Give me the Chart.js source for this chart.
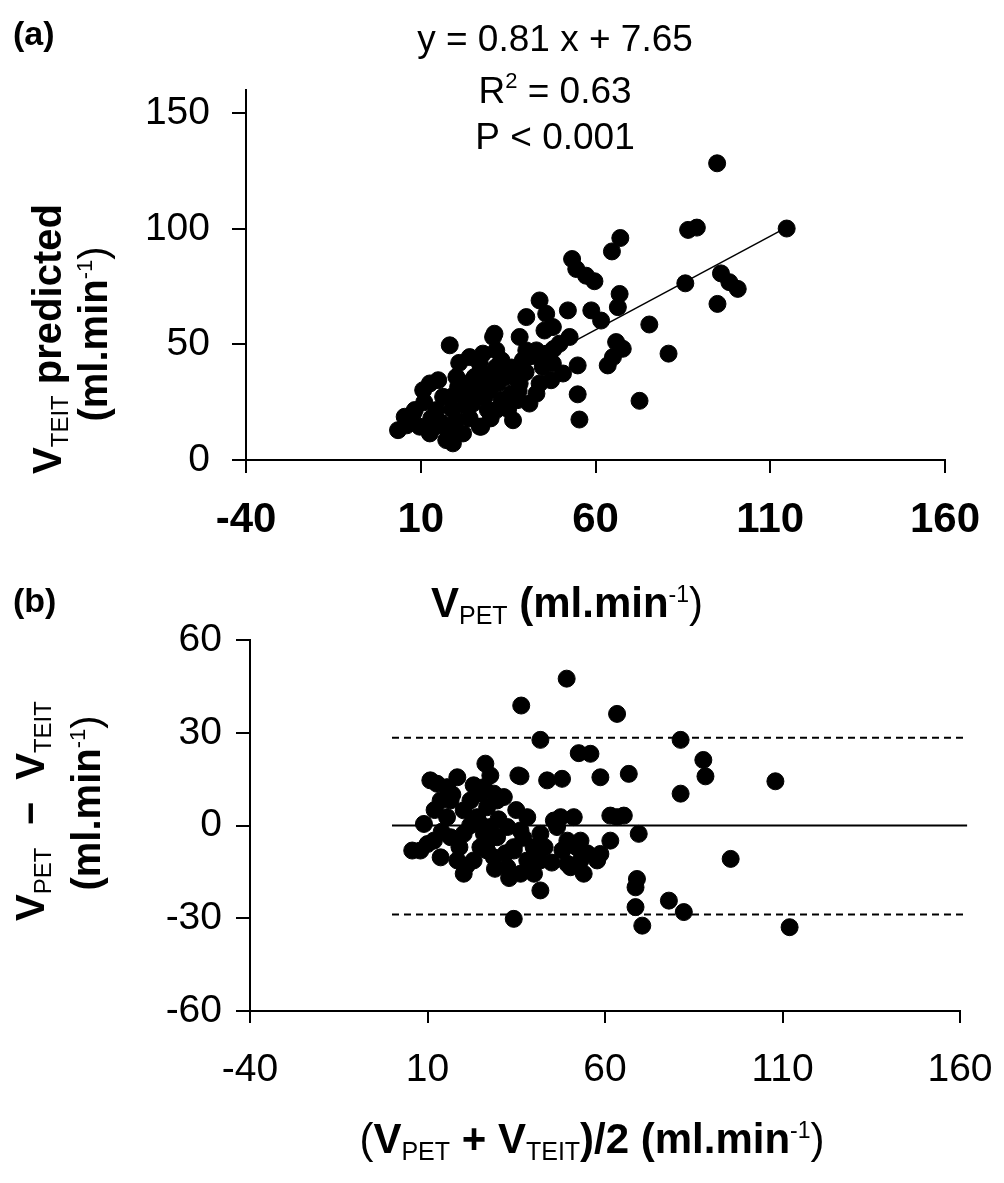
<!DOCTYPE html>
<html>
<head>
<meta charset="utf-8">
<script src="https://cdn.jsdelivr.net/npm/chart.js@4.4.1/dist/chart.umd.min.js"></script>
<style>
  body { margin: 0; background: #fff; }
  canvas { position: absolute; left: 0; }
</style>
</head>
<body>
<canvas id="chartA" width="1004" height="640" style="top:0"></canvas>
<canvas id="chartB" width="1004" height="603" style="top:580px"></canvas>
<script>
// panel (a): V_PET vs V_TEIT predicted
const vPet = [94.8, 86.5, 89, 114.7, 67.1, 64.7, 53.3, 54.5, 57.3, 59.7,
  85.7, 95.9, 98.3, 100.7, 94.9, 66.9, 66.4, 75.4, 80.9, 72.6,
  54.9, 55.4, 65.9, 67.8, 63.5, 65, 54.9, 50.7, 58.8, 61.6,
  52.1, 44, 45.9, 40.2, 52.6, 49.7, 47.8, 40.2, 39.2, 43.1,
  44.9, 30.7, 31.6, 27.8, 18.3, 43.1, 36.4, 3.5, 7.8, 10.7,
  12.6, 16.4, 19.2, 20.2, 23.1, 26.9, 24.9, 29.7, 31.6, 26.9,
  34.5, 38.3, 35.4, 9.7, 14.5, 22.1, 17.3, 12.6, 20.2, 24,
  44, 47.8, 38.3, 31.6, 23.1, 41.1, 45.4, 37.8, 32.1, 25.4,
  20.7, 8.3, 14, 27.3, 29.2, 18.8, 15, 33.1, 28.3, 33.1,
  5.4, 47.3, 37.8, 35.9, 31.1, 13, 16, 19, 22, 25,
  28, 30, 33, 36, 40, 42, 46, 48, 35, 30,
  11, 6, 18, 24, 38, 27, 21];
const vTeitPred = [128.3, 99.5, 100.5, 100.1, 96, 90.2, 86.9, 82.6, 79.7, 77.3,
  76.4, 80.7, 76.9, 74, 67.5, 71.8, 66.1, 58.6, 46, 25.6,
  28.4, 17.5, 51, 48.1, 40.9, 44.5, 40.9, 37.4, 64.7, 60.3,
  64.7, 69, 63.2, 61.8, 53.2, 50.3, 57.5, 47.4, 43.1, 47.4,
  40.2, 53.2, 47.4, 46, 49.6, 28.7, 17.2, 12.9, 20.1, 30.2,
  11.5, 27.3, 7.2, 17.2, 33.1, 41.7, 24.4, 30.2, 21.6, 14.4,
  35.9, 33.1, 27.3, 14.4, 21.6, 11.5, 8.6, 33.1, 35.9, 44.5,
  33.1, 41.7, 53.2, 40.2, 23, 24.4, 56, 25.9, 33.1, 35.9,
  31.6, 21.6, 14.4, 14.4, 21.6, 27.3, 34.5, 43.1, 27.3, 25.9,
  18.7, 34.5, 34.5, 28.7, 54.6, 18, 16, 22, 28, 30,
  33, 37, 38, 40, 38, 45, 46, 48, 22, 18,
  25, 15, 12, 18, 30, 38, 42];
// regression line end points
const fitX = [5, 114.7];
const fitY = [11.7, 100.6];

// panel (b): Bland-Altman
const meanVals = [49.2, 36.4, 63.4, 41.8, 81.3, 52.6, 55.9, 87.7, 88.3, 108,
  81.3, 66.7, 58.7, 43.7, 47.9, 36.2, 26.3, 61.5, 65.3, 69.5,
  61.5, 95.4, 69, 68.6, 41.8, 78, 82.2, 68.6, 70.5, 34.3,
  112, 10.8, 18.4, 13.7, 20.2, 15.5, 9, 8, 13.7, 20.2,
  24.9, 27.7, 31.5, 28.7, 32.5, 34.3, 38.1, 38.1, 41.8, 45.6,
  47.5, 49.4, 49.4, 53.1, 51.2, 57.8, 54, 41.8, 36.2, 32.5,
  24, 26.8, 16.5, 27.7, 15.5, 22.1, 24.9, 29.6, 36.2, 39.9,
  28.7, 23, 18.4, 11.8, 25.9, 20.2, 5.7, 35.6, 12.7, 16.5,
  46.5, 50.3, 40, 24.9, 29.6, 34.3, 26.8, 25.9, 63.4, 53.1,
  58.7, 12, 14, 17, 19, 22, 23, 27, 30, 32,
  35, 37, 40, 43, 45, 48, 52, 55, 33, 29,
  21, 10];
const diffVals = [47.5, 38.8, 36.1, 27.7, 27.7, 23.4, 23.2, 21.2, 15.9, 14.3,
  10.3, 16.7, 15.6, 14.6, 15.1, 15.9, 20, 3.2, 3.2, -2.7,
  -4.9, -10.8, -17.3, -20, -21, -24.3, -28, -26.4, -32.4, -30.2,
  -32.9, 14.6, 15.6, 8.1, 4.9, 2.7, 0.5, -8.1, -10.3, -15.6,
  -7, -0.5, 9.2, 10.3, -0.5, -7, -11.3, 2.7, -2.7, 1.6,
  2.7, -4.9, -12.4, -11.3, 2.7, -11.3, -15.6, -11.3, -15.6, -13.5,
  2.7, 5.9, -3.8, 16.2, 12.4, 8.1, 10.3, 8.1, -1.6, -7,
  -10.3, -11.3, -11.3, -4.9, -2.7, -2.7, -8.1, 16.2, 13.5, 8.1,
  -0.5, -13.5, -15.6, 0.5, -3.8, -8.1, -8.1, 12.4, 2.7, -4.9,
  -9.2, 5, -2, 10, -7, 0, 13, -5, 2, -9,
  5, -4, -10, -7, -12, -8, -7, -9, -17, -14,
  -13, -6];
const limitX = [0, 162];
const bias = 0;
const upperLoA = 28.4;
const lowerLoA = -28.8;

// tick labels
const xTicks = [-40, 10, 60, 110, 160];
const yTicksA = [0, 50, 100, 150];
const yTicksB = [-60, -30, 0, 30, 60];

const FONT = '"Liberation Sans", Arial, sans-serif';

function toPoints(xs, ys) {
  return xs.map((x, i) => ({ x: x, y: ys[i] }));
}

function seg(t, size, bold, dy) {
  return { t: t, size: size, bold: !!bold, dy: dy || 0 };
}

// draws a line of mixed text (bold / sub / sup), centred on x,y unless align is 'left'
function rich(ctx, parts, x, y, rotate, align) {
  ctx.save();
  ctx.textBaseline = 'alphabetic';
  ctx.textAlign = 'left';
  let total = 0;
  parts.forEach(p => {
    ctx.font = (p.bold ? 'bold ' : '') + p.size + 'px ' + FONT;
    p.w = ctx.measureText(p.t).width;
    total += p.w;
  });
  ctx.translate(x, y);
  if (rotate) ctx.rotate(-Math.PI / 2);
  let cx = align === 'left' ? 0 : -total / 2;
  parts.forEach(p => {
    ctx.font = (p.bold ? 'bold ' : '') + p.size + 'px ' + FONT;
    ctx.fillStyle = '#000';
    ctx.fillText(p.t, cx, p.dy);
    cx += p.w;
  });
  ctx.restore();
}

function axis(min, max, ticks, tickLen, pad, fontSize, bold, fit) {
  return {
    type: 'linear',
    min: min,
    max: max,
    afterBuildTicks: s => { s.ticks = ticks.map(v => ({ value: v })); },
    afterFit: fit,
    grid: { drawOnChartArea: false, drawTicks: true, tickLength: tickLen, color: '#000', lineWidth: 2 },
    border: { display: true, color: '#000', width: 2 },
    ticks: { color: '#000', padding: pad, maxRotation: 0, autoSkip: false,
      font: { family: FONT, size: fontSize, weight: bold ? 'bold' : 'normal' } }
  };
}

// fixed box sizes so the plot area lands where the picture has it
function fixHeight(h) {
  return s => { s.height = h; s.paddingLeft = 0; s.paddingRight = 0; };
}
function fixWidth(w) {
  return s => { s.width = w; s.paddingTop = 0; s.paddingBottom = 0; };
}

const dotStyle = { backgroundColor: '#000', borderColor: '#000', pointRadius: 8.5, pointHoverRadius: 8.5, borderWidth: 1 };

// panel (a)
new Chart(document.getElementById('chartA'), {
  type: 'scatter',
  data: {
    datasets: [
      Object.assign({ data: toPoints(vPet, vTeitPred) }, dotStyle),
      { data: toPoints(fitX, fitY), showLine: true, pointRadius: 0, borderColor: '#000', borderWidth: 1.5, clip: false }
    ]
  },
  options: {
    responsive: false,
    animation: false,
    events: [],
    plugins: { legend: { display: false }, tooltip: { enabled: false } },
    layout: { padding: { top: 90, right: 59, left: 0, bottom: 0 } },
    scales: {
      x: axis(-40, 160, xTicks, 13, 22, 42, true, fixHeight(180)),
      y: axis(0, 160, yTicksA, 14, 22, 39, false, fixWidth(246))
    }
  },
  plugins: [{
    id: 'textA',
    afterDraw(chart) {
      const ctx = chart.ctx;
      rich(ctx, [seg('(a)', 34, true)], 13, 45, false, 'left');
      rich(ctx, [seg('y = 0.81 x + 7.65', 37)], 555, 51);
      rich(ctx, [seg('R', 37), seg('2', 22, false, -15), seg(' = 0.63', 37)], 555, 103);
      rich(ctx, [seg('P < 0.001', 37)], 555, 149);
      rich(ctx, [seg('V', 40, true), seg('TEIT', 24, false, 7), seg(' predicted', 40, true)], 61, 339, true);
      rich(ctx, [seg('(ml.min', 40, true), seg('-1', 22, false, -15), seg(')', 40)], 107, 334, true);
      rich(ctx, [seg('V', 42, true), seg('PET', 25, false, 7), seg(' (ml.min', 42, true),
        seg('-1', 23, false, -15), seg(')', 42)], 567, 617);
    }
  }]
});

// panel (b)
new Chart(document.getElementById('chartB'), {
  type: 'scatter',
  data: {
    datasets: [
      Object.assign({ data: toPoints(meanVals, diffVals) }, dotStyle),
      { data: toPoints(limitX, [bias, bias]), showLine: true, pointRadius: 0, borderColor: '#000', borderWidth: 2, clip: false },
      { data: toPoints(limitX, [upperLoA, upperLoA]), showLine: true, pointRadius: 0, borderColor: '#000', borderWidth: 2, borderDash: [7, 5], clip: false },
      { data: toPoints(limitX, [lowerLoA, lowerLoA]), showLine: true, pointRadius: 0, borderColor: '#000', borderWidth: 2, borderDash: [7, 5], clip: false }
    ]
  },
  options: {
    responsive: false,
    animation: false,
    events: [],
    plugins: { legend: { display: false }, tooltip: { enabled: false } },
    layout: { padding: { top: 60, right: 44, left: 0, bottom: 0 } },
    scales: {
      x: axis(-40, 160, xTicks, 12, 24, 39, false, fixHeight(172)),
      y: axis(-60, 60, yTicksB, 14, 14, 39, false, fixWidth(250))
    }
  },
  plugins: [{
    id: 'textB',
    afterDraw(chart) {
      const ctx = chart.ctx;
      rich(ctx, [seg('(b)', 34, true)], 13, 32, false, 'left');
      rich(ctx, [seg('V', 40, true), seg('PET', 24, false, 7), seg('  \u2212  ', 40, true),
        seg('V', 40, true), seg('TEIT', 24, false, 7)], 44, 231, true);
      rich(ctx, [seg('(ml.min', 40, true), seg('-1', 22, false, -15), seg(')', 40)], 100, 223, true);
      rich(ctx, [seg('(', 42), seg('V', 42, true), seg('PET', 25, false, 7), seg(' + ', 42, true),
        seg('V', 42, true), seg('TEIT', 25, false, 7), seg(')/2 (ml.min', 42, true),
        seg('-1', 23, false, -15), seg(')', 42)], 592, 573);
    }
  }]
});
</script>
</body>
</html>
